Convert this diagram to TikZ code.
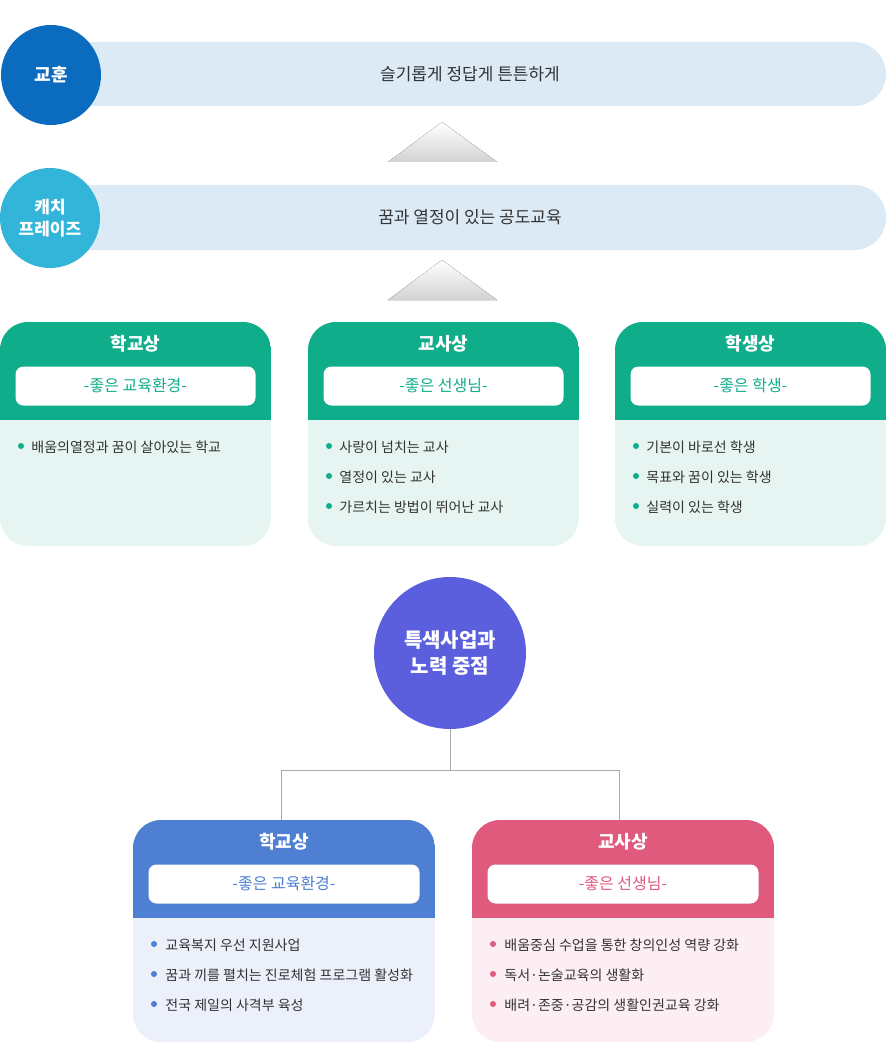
\documentclass[tikz,border=0pt]{standalone}
\usepackage{fontspec}
\setmainfont{Noto Sans CJK KR}
\usetikzlibrary{positioning}
\definecolor{mottoblue}{HTML}{0B6BBF}
\definecolor{catchcyan}{HTML}{32B5D9}
\definecolor{bannerbg}{HTML}{DCEAF6}
\definecolor{greenhead}{HTML}{10AD8B}
\definecolor{greenbody}{HTML}{E6F5F1}
\definecolor{bluehead}{HTML}{4E7FD3}
\definecolor{bluebody}{HTML}{EBF0FA}
\definecolor{pinkhead}{HTML}{E05A7E}
\definecolor{pinkbody}{HTML}{FCEEF2}
\definecolor{focuspurple}{HTML}{5B5FDE}
\definecolor{linegray}{HTML}{AAAAAA}
\definecolor{textdark}{HTML}{333333}
% one card: #1 left x, #2 top y, #3 width, #4 height, #5 header height, #6 head colour, #7 body colour, #8 title, #9 subtitle
\newcommand{\cardbox}[9]{%
  \begin{scope}
    \clip[rounded corners=14] (#1,#2) rectangle ++(#3,#4);
    \fill[#7] (#1,#2) rectangle ++(#3,#4);
    \fill[#6] (#1,#2) rectangle ++(#3,#5);
  \end{scope}
  \node[cardtitle] at (#1+#3/2,#2+22) {#8};
  \node[subbox,minimum width=(#3-31)*0.5pt,text=#6] at (#1+#3/2,#2+64) {#9};
}
\begin{document}
\begin{tikzpicture}[x=0.5pt,y=-0.5pt,
  cardtitle/.style={text=white,font=\fontsize{9}{10}\selectfont\bfseries},
  subbox/.style={fill=white,rounded corners=4,minimum height=19.5pt,inner sep=0pt,font=\fontsize{8}{9}\selectfont},
  bullettext/.style={anchor=west,text=textdark,font=\fontsize{7}{8}\selectfont,inner sep=0pt},
  badge/.style={circle,minimum size=50pt,inner sep=0pt,text=white,align=center,font=\fontsize{9}{11}\selectfont\bfseries},
  banner/.style={rounded corners=16,fill=bannerbg},
  uptri/.style={top color=white,bottom color=gray!35}]
\useasboundingbox (0,0) rectangle (886,1043);
% motto and catch phrase
\fill[banner] (40,42) rectangle (886,106);
\node[badge,fill=mottoblue] (motto) at (51,75) {교훈};
\node[font=\fontsize{8.5}{10}\selectfont,text=textdark] (mottotext) at (470,74) {슬기롭게 정답게 튼튼하게};
\fill[uptri] (442,122) -- (497,162) -- (388,162) -- cycle;
\fill[banner] (40,185) rectangle (886,250);
\node[badge,fill=catchcyan,font=\fontsize{8.5}{11}\selectfont\bfseries] (catch) at (50,218) {캐치\\프레이즈};
\node[font=\fontsize{8.5}{10}\selectfont,text=textdark] (catchtext) at (470,217) {꿈과 열정이 있는 공도교육};
\fill[uptri] (442,260) -- (497,300) -- (388,300) -- cycle;
% three green cards
\cardbox{0}{322}{271}{224}{98}{greenhead}{greenbody}{학교상}{-좋은 교육환경-}
\cardbox{308}{322}{271}{224}{98}{greenhead}{greenbody}{교사상}{-좋은 선생님-}
\cardbox{615}{322}{271}{224}{98}{greenhead}{greenbody}{학생상}{-좋은 학생-}
\foreach \x/\y/\t in {0/447/배움의열정과 꿈이 살아있는 학교,
  308/447/사랑이 넘치는 교사, 308/477/열정이 있는 교사, 308/507/가르치는 방법이 뛰어난 교사,
  615/447/기본이 바로선 학생, 615/477/목표와 꿈이 있는 학생, 615/507/실력이 있는 학생}{
  \fill[greenhead] (\x+21,\y-1) circle (3);
  \node[bullettext] at (\x+31,\y) {\t};
}
% focus
\node[circle,fill=focuspurple,minimum size=76pt,inner sep=0pt,text=white,align=center,font=\fontsize{10}{13}\selectfont\bfseries] (focus) at (450,653) {특색사업과\\노력 중점};
\coordinate (leftdrop) at (281,820);
\coordinate (rightdrop) at (619,820);
\draw[linegray] (focus.south) -- (450,770) -| (leftdrop);
\draw[linegray] (450,770) -| (rightdrop);
% two bottom cards
\cardbox{133}{820}{302}{222}{98}{bluehead}{bluebody}{학교상}{-좋은 교육환경-}
\cardbox{472}{820}{302}{222}{98}{pinkhead}{pinkbody}{교사상}{-좋은 선생님-}
\foreach \y/\t in {945/교육복지 우선 지원사업, 975/꿈과 끼를 펼치는 진로체험 프로그램 활성화, 1005/전국 제일의 사격부 육성}{
  \fill[bluehead] (154,\y-1) circle (3);
  \node[bullettext] at (165,\y) {\t};
}
\foreach \y/\t in {945/배움중심 수업을 통한 창의인성 역량 강화, 975/독서·논술교육의 생활화, 1005/배려·존중·공감의 생활인권교육 강화}{
  \fill[pinkhead] (493,\y-1) circle (3);
  \node[bullettext] at (504,\y) {\t};
}
\end{tikzpicture}
\end{document}
